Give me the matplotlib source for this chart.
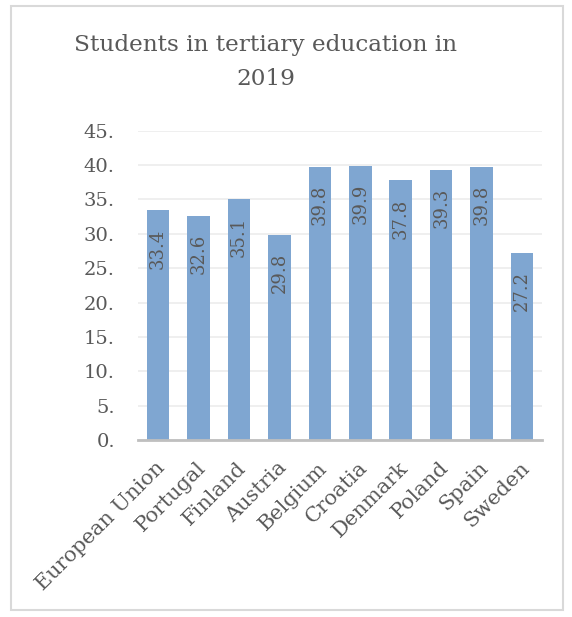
import matplotlib.pyplot as plt
import matplotlib.transforms as mtransforms
from matplotlib.patches import Rectangle

countries = ["European Union", "Portugal", "Finland", "Austria", "Belgium",
             "Croatia", "Denmark", "Poland", "Spain", "Sweden"]
students = [33.4, 32.6, 35.1, 29.8, 39.8, 39.9, 37.8, 39.3, 39.8, 27.2]
y_ticks = [0, 5, 10, 15, 20, 25, 30, 35, 40, 45]

text_color = "#595959"
bar_color = "#7fa6d1"

plt.rcParams['font.family'] = ['DejaVu Serif']

fig = plt.figure(figsize=(5.72, 6.17), dpi=100)
ax = fig.add_axes([0.241, 0.287, 0.707, 0.501])

# light frame around the whole chart
fig.patches.append(Rectangle((11 / 572, 1 - 610 / 617), 552 / 572, 604 / 617,
                             transform=fig.transFigure, fill=False,
                             edgecolor="#d9d9d9", linewidth=1.5))

x = range(len(countries))
bars = ax.bar(x, students, width=0.56, color=bar_color, zorder=2)

for xi, val in zip(x, students):
    ax.annotate(f"{val:.1f}", (xi, val), xytext=(0, -18),
                textcoords="offset pixels", rotation=90, ha="center",
                va="top", fontsize=13, color=text_color)

ax.set_xlim(-0.5, len(countries) - 0.5)
ax.set_ylim(0, 45)
ax.set_yticks(y_ticks)
ax.set_yticklabels([f"{t}." for t in y_ticks])
ax.set_xticks(list(x))
ax.set_xticklabels(countries, rotation=45, ha="right", va="center",
                   rotation_mode="anchor")

ax.tick_params(axis="both", length=0, colors=text_color)
ax.tick_params(axis="y", pad=16.5, labelsize=14)
ax.tick_params(axis="x", pad=18, labelsize=15)
shift = mtransforms.ScaledTranslation(4 / 100, 0, fig.dpi_scale_trans)
for lbl in ax.get_xticklabels():
    lbl.set_transform(lbl.get_transform() + shift)

ax.grid(axis="y", color="#ececec", linewidth=1.2, zorder=0)
for side in ["top", "right", "left"]:
    ax.spines[side].set_visible(False)
ax.spines["bottom"].set_color("#bfbfbf")
ax.spines["bottom"].set_linewidth(2)
ax.spines["bottom"].set_zorder(3)

fig.text(0.465, 0.899, "Students in tertiary education in\n2019", ha="center",
         va="center", fontsize=16.7, color=text_color, linespacing=1.7)

fig.savefig("out.png", dpi=100)
